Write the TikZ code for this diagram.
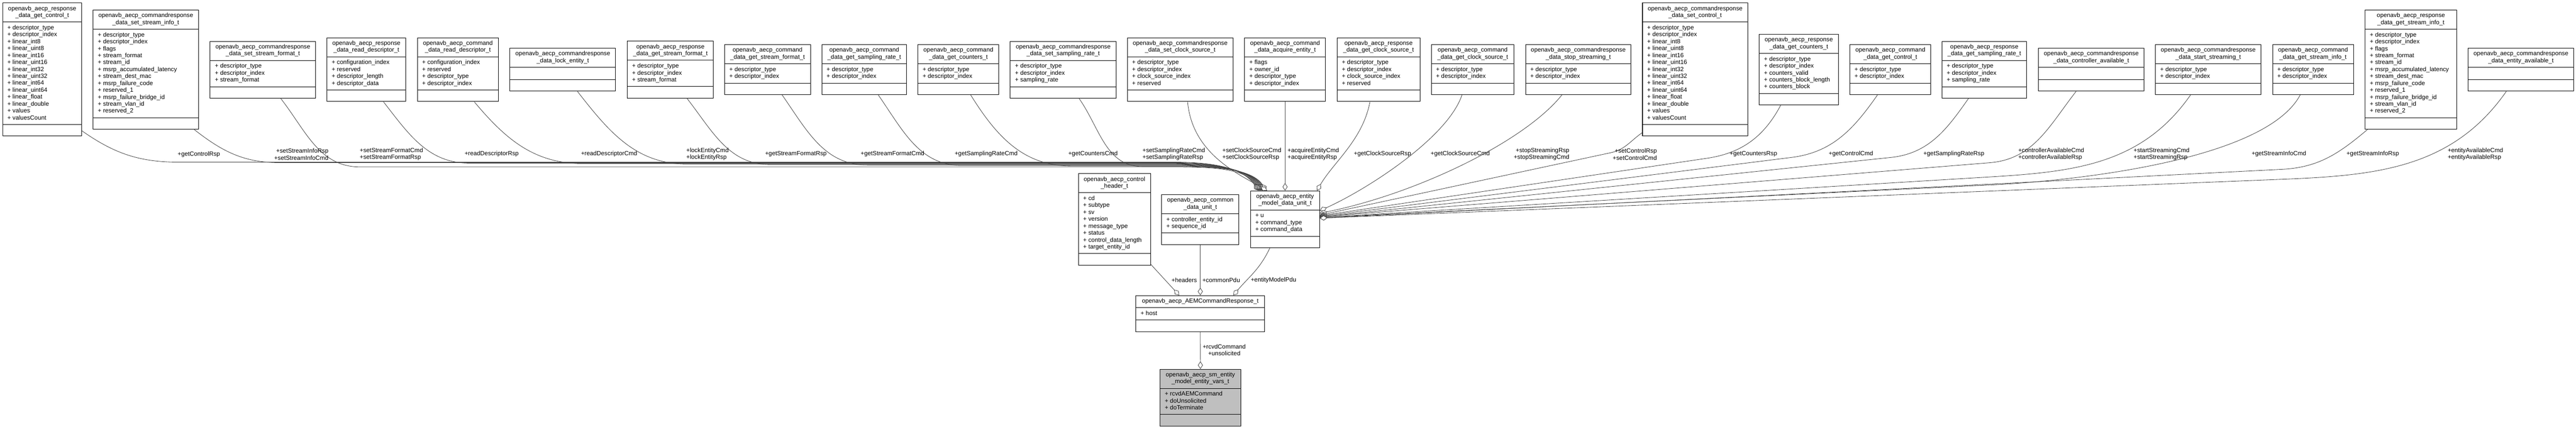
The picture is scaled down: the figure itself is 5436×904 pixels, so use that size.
\documentclass[tikz,border=0pt]{standalone}
\usepackage{fontspec}
\setmainfont{Liberation Sans}
\usetikzlibrary{arrows.meta}
\setlength{\arrayrulewidth}{1.1pt}
\hyphenpenalty=10000
\exhyphenpenalty=10000

\newcommand{\umlclass}[3]{%
  \begin{tabular}{@{\hspace{10pt}}p{\dimexpr#1pt-20pt\relax}@{\hspace{10pt}}}
    \centering\leftskip=-6pt plus 1fil\rightskip=-6pt plus 1fil
    \rule{0pt}{15.5pt}#2\rule[-9.5pt]{0pt}{0pt}\tabularnewline\hline
    \raggedright\rule{0pt}{15.5pt}#3\rule[-9.5pt]{0pt}{0pt}\tabularnewline\hline
    \rule{0pt}{19.6pt}\tabularnewline
  \end{tabular}}
\newcommand{\descattrs}{+ descriptor\_type\\+ descriptor\_index}
\newcommand{\ctrlattrs}{\descattrs\\+ linear\_int8\\+ linear\_uint8\\+ linear\_int16\\+ linear\_uint16\\+ linear\_int32\\+ linear\_uint32\\+ linear\_int64\\+ linear\_uint64\\+ linear\_float\\+ linear\_double\\+ values\\+ valuesCount}
\newcommand{\streamattrs}{\descattrs\\+ flags\\+ stream\_format\\+ stream\_id\\+ msrp\_accumulated\_latency\\+ stream\_dest\_mac\\+ msrp\_failure\_code\\+ reserved\_1\\+ msrp\_failure\_bridge\_id\\+ stream\_vlan\_id\\+ reserved\_2}

\begin{document}
\begin{tikzpicture}[x=1pt, y=-1pt,
  cls/.style={draw, line width=1.1pt, fill=white, inner sep=0pt, anchor=north west,
    font=\fontsize{12.8}{14.6}\selectfont},
  lbl/.style={inner sep=0pt, font=\fontsize{12.8}{14.6}\selectfont},
  assoc/.style={draw=black!75, line width=0.9pt,
    -{Diamond[fill=white, length=16pt, width=10.5pt]}}]
  \useasboundingbox (0,0) rectangle (5436,904);

  % upper row
  \node[cls] (getCtrlRsp) at (5,5.7) {\umlclass{166.9}{openavb\_aecp\_response\\\_data\_get\_control\_t}{\ctrlattrs}};
  \node[cls] (setStreamInfo) at (196,20.7) {\umlclass{222.2}{openavb\_aecp\_commandresponse\\\_data\_set\_stream\_info\_t}{\streamattrs}};
  \node[cls] (setStreamFmt) at (443,86.7) {\umlclass{222.3}{openavb\_aecp\_commandresponse\\\_data\_set\_stream\_format\_t}{\descattrs\\+ stream\_format}};
  \node[cls] (readDescRsp) at (689.4,79) {\umlclass{166.4}{openavb\_aecp\_response\\\_data\_read\_descriptor\_t}{+ configuration\_index\\+ reserved\\+ descriptor\_length\\+ descriptor\_data}};
  \node[cls] (readDescCmd) at (880.3,79) {\umlclass{170.9}{openavb\_aecp\_command\\\_data\_read\_descriptor\_t}{+ configuration\_index\\+ reserved\\\descattrs}};
  \node[cls] (lockEntity) at (1075.7,101) {\umlclass{222.8}{openavb\_aecp\_commandresponse\\\_data\_lock\_entity\_t}{}};
  \node[cls] (getStreamFmtRsp) at (1323.4,86.3) {\umlclass{181.5}{openavb\_aecp\_response\\\_data\_get\_stream\_format\_t}{\descattrs\\+ stream\_format}};
  \node[cls] (getStreamFmtCmd) at (1528.6,93.7) {\umlclass{181.1}{openavb\_aecp\_command\\\_data\_get\_stream\_format\_t}{\descattrs}};
  \node[cls] (getSampRateCmd) at (1733.8,93.7) {\umlclass{178.9}{openavb\_aecp\_command\\\_data\_get\_sampling\_rate\_t}{\descattrs}};
  \node[cls] (getCountersCmd) at (1936.4,93.7) {\umlclass{170.8}{openavb\_aecp\_command\\\_data\_get\_counters\_t}{\descattrs}};
  \node[cls] (setSampRate) at (2131.4,86.7) {\umlclass{223.4}{openavb\_aecp\_commandresponse\\\_data\_set\_sampling\_rate\_t}{\descattrs\\+ sampling\_rate}};
  \node[cls] (setClockSrc) at (2378.5,79) {\umlclass{222.8}{openavb\_aecp\_commandresponse\\\_data\_set\_clock\_source\_t}{\descattrs\\+ clock\_source\_index\\+ reserved}};
  \node[cls] (acquireEntity) at (2625.8,79) {\umlclass{170.8}{openavb\_aecp\_command\\\_data\_acquire\_entity\_t}{+ flags\\+ owner\_id\\\descattrs}};
  \node[cls] (getClockSrcRsp) at (2821.1,79) {\umlclass{174.8}{openavb\_aecp\_response\\\_data\_get\_clock\_source\_t}{\descattrs\\+ clock\_source\_index\\+ reserved}};
  \node[cls] (getClockSrcCmd) at (3019.8,93.7) {\umlclass{174.7}{openavb\_aecp\_command\\\_data\_get\_clock\_source\_t}{\descattrs}};
  \node[cls] (stopStreaming) at (3218.7,93.7) {\umlclass{222.6}{openavb\_aecp\_commandresponse\\\_data\_stop\_streaming\_t}{\descattrs}};
  \node[cls] (setControl) at (3465.4,5.7) {\umlclass{222.4}{openavb\_aecp\_commandresponse\\\_data\_set\_control\_t}{\ctrlattrs}};
  \node[cls] (getCountersRsp) at (3711.9,71.7) {\umlclass{166.9}{openavb\_aecp\_response\\\_data\_get\_counters\_t}{\descattrs\\+ counters\_valid\\+ counters\_block\_length\\+ counters\_block}};
  \node[cls] (getCtrlCmd) at (3902.9,93.7) {\umlclass{171.2}{openavb\_aecp\_command\\\_data\_get\_control\_t}{\descattrs}};
  \node[cls] (getSampRateRsp) at (4097.4,86.7) {\umlclass{178.9}{openavb\_aecp\_response\\\_data\_get\_sampling\_rate\_t}{\descattrs\\+ sampling\_rate}};
  \node[cls] (ctrlAvail) at (4301.2,101) {\umlclass{222.6}{openavb\_aecp\_commandresponse\\\_data\_controller\_available\_t}{}};
  \node[cls] (startStreaming) at (4548,93.7) {\umlclass{222.6}{openavb\_aecp\_commandresponse\\\_data\_start\_streaming\_t}{\descattrs}};
  \node[cls] (getStreamInfoCmd) at (4795.1,93.7) {\umlclass{170.8}{openavb\_aecp\_command\\\_data\_get\_stream\_info\_t}{\descattrs}};
  \node[cls] (getStreamInfoRsp) at (4990.4,20.7) {\umlclass{193.3}{openavb\_aecp\_response\\\_data\_get\_stream\_info\_t}{\streamattrs}};
  \node[cls] (entityAvail) at (5207.5,101) {\umlclass{223.4}{openavb\_aecp\_commandresponse\\\_data\_entity\_available\_t}{}};

  % lower part
  \node[cls] (emdu) at (2638.4,402) {\umlclass{145.6}{openavb\_aecp\_entity\\\_model\_data\_unit\_t}{+ u\\+ command\_type\\+ command\_data}};
  \node[cls] (ctrlHeader) at (2275.2,365.7) {\umlclass{152.1}{openavb\_aecp\_control\\\_header\_t}{+ cd\\+ subtype\\+ sv\\+ version\\+ message\_type\\+ status\\+ control\_data\_length\\+ target\_entity\_id}};
  \node[cls] (commonDu) at (2450.8,409.7) {\umlclass{163.1}{openavb\_aecp\_common\\\_data\_unit\_t}{+ controller\_entity\_id\\+ sequence\_id}};
  \node[cls] (aemCmdRsp) at (2396.3,622.7) {\umlclass{272.1}{openavb\_aecp\_AEMCommandResponse\_t}{+ host}};
  \node[cls, fill=black!25] (smVars) at (2447.4,778) {\umlclass{170.3}{openavb\_aecp\_sm\_entity\\\_model\_entity\_vars\_t}{+ rcvdAEMCommand\\+ doUnsolicited\\+ doTerminate}};

  % edges into the entity model data unit
  \foreach \nd/\sa/\ot/\kx/\yb/\ea in {getCtrlRsp/-57/-35/380/342/133, setStreamInfo/-51/-38/590/343/132,
      setStreamFmt/-58/-52/760/352/131, readDescRsp/-62/-52/990/344/130, readDescCmd/-63/-50/1230/345/129,
      lockEntity/-56/-52/1450/346/128, getStreamFmtRsp/-60/-52/1625/347/127, getStreamFmtCmd/-60/-55/1830/348/126,
      getSampRateCmd/-61/-55/2030/349/125, getCountersCmd/-64/-58/2260/350/124, setSampRate/-61/-55/2410/351/123}
    \draw[assoc] (\nd.\sa) to[out=\ot, in=180] (\kx,\yb) -- (2480,\yb) .. controls +(90,0) and +(-30,-45) .. (emdu.\ea);
  \draw[assoc] (setClockSrc.-77) .. controls +(10,110) and +(-60,-35) .. (emdu.122);
  \draw[assoc] (acquireEntity.south) -- (emdu.north);
  \draw[assoc] (getClockSrcRsp.-105) .. controls +(-15,80) and +(35,-60) .. (emdu.42);
  \draw[assoc] (getClockSrcCmd.-113) .. controls +(-30,90) and +(100,-45) .. (emdu.14);
  \draw[assoc] (stopStreaming.-123) .. controls +(-80,100) and +(200,-40) .. (emdu.10);
  \foreach \nd/\sa/\ot/\kx/\ky/\ia/\lo/\ea in {setControl/-130/-145/3399/322/12/1/7, getCountersRsp/-117/-118/3600/334/8/1/6,
      getCtrlCmd/-117/-125/3780/332/7/1/5, getSampRateRsp/-119/-125/3990/332/6/1/4, ctrlAvail/-125/-128/4200/343/5/1/4,
      startStreaming/-125/-125/4200/373/3.5/1/3, getStreamInfoCmd/-117/-118/4200/390/2.7/0.6/3,
      getStreamInfoRsp/-126/-140/4816/357/3/1/2, entityAvail/-124/-125/4816/378/2.3/1/2}
    \draw[assoc] (\nd.\sa) to[out=\ot, in=\ia, looseness=\lo] (\kx,\ky) -- (emdu.\ea);

  % edges into the command response and the state machine vars
  \draw[assoc] (ctrlHeader.-51) -- (aemCmdRsp.139);
  \draw[assoc] (commonDu.south) -- (aemCmdRsp.north);
  \draw[assoc] (emdu.-118) to[out=-115, in=50] (aemCmdRsp.29);
  \draw[assoc] (aemCmdRsp.south) -- (smVars.north);

  % role labels
  \foreach \nm/\x/\y/\txt in {lGetCtrlRsp/419.6/325.7/+getControlRsp, lReadDescRsp/1037.5/325/+readDescriptorRsp,
      lReadDescCmd/1285.3/325/+readDescriptorCmd, lGetStreamFmtRsp/1679.5/325/+getStreamFormatRsp,
      lGetStreamFmtCmd/1883.4/325/+getStreamFormatCmd, lGetSampRateCmd/2081/325/+getSamplingRateCmd,
      lGetCountersCmd/2306.5/325/+getCountersCmd, lGetClockSrcRsp/2917.4/325/+getClockSourceRsp,
      lGetClockSrcCmd/3081.5/325/+getClockSourceCmd, lGetCountersRsp/3700.2/325/+getCountersRsp,
      lGetCtrlCmd/3906/325/+getControlCmd, lGetSampRateRsp/4123/325/+getSamplingRateRsp,
      lGetStreamInfoCmd/4809/325/+getStreamInfoCmd, lGetStreamInfoRsp/5007/325/+getStreamInfoRsp,
      lHeaders/2499/590.7/+headers, lCommonPdu/2577/590.7/+commonPdu, lEntityModelPdu/2687.4/590.7/+entityModelPdu}
    \node[lbl] (\nm) at (\x,\y) {\txt};
  \foreach \nm/\x/\txt in {lSetStreamFmt/826/{+setStreamFormatCmd\\+setStreamFormatRsp},
      lLockEntity/1493/{+lockEntityCmd\\+lockEntityRsp}, lSetSampRate/2477/{+setSamplingRateCmd\\+setSamplingRateRsp},
      lSetClockSrc/2641.6/{+setClockSourceCmd\\+setClockSourceRsp}, lAcquireEntity/2771.3/{+acquireEntityCmd\\+acquireEntityRsp},
      lCtrlAvail/4328.5/{+controllerAvailableCmd\\+controllerAvailableRsp},
      lStartStreaming/4561.4/{+startStreamingCmd\\+startStreamingRsp},
      lEntityAvail/5223.7/{+entityAvailableCmd\\+entityAvailableRsp}}
    \node[lbl, align=left] (\nm) at (\x,325.3) {\txt};
  \foreach \nm/\x/\txt in {lSetStreamInfo/635.8/{+setStreamInfoRsp\\+setStreamInfoCmd},
      lStopStreaming/3253/{+stopStreamingRsp\\+stopStreamingCmd}, lSetControl/3449.8/{+setControlRsp\\+setControlCmd}}
    \node[lbl, align=right] (\nm) at (\x,325.3) {\txt};
  \node[lbl, align=center] (lRcvd) at (2583.5,737.7) {+rcvdCommand\\+unsolicited};
\end{tikzpicture}
\end{document}
